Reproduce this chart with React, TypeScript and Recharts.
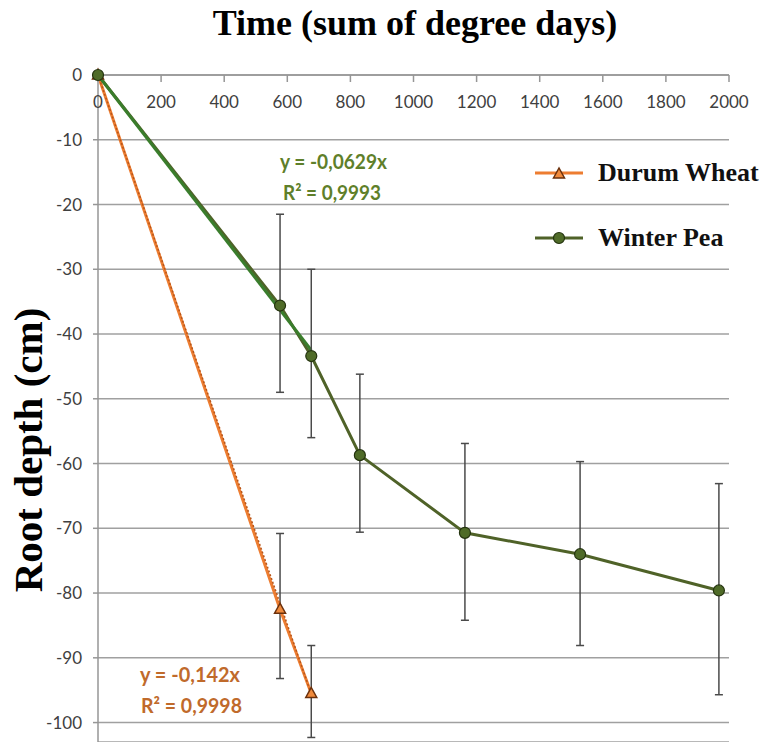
import React from "react";
import { LineChart, Line, XAxis, YAxis, CartesianGrid, ErrorBar } from "recharts";

// degree days at each sampling
const wheatX = [0, 577, 676];
const wheatDepth = [0, -82.5, -95.5];
const wheatTop = [null, -70.8, -88.1];
const wheatBottom = [null, -93.2, -102.3];

const peaX = [0, 577, 676, 830, 1163, 1528, 1968];
const peaDepth = [0, -35.6, -43.4, -58.7, -70.7, -74.0, -79.6];
const peaTop = [null, -21.5, -30.0, -46.2, -56.9, -59.7, -63.1];
const peaBottom = [null, -49.0, -56.0, -70.6, -84.2, -88.1, -95.7];

// linear trend lines (end points)
const wheatTrendX = [0, 676];
const wheatTrendY = [0, -95.6];
const peaTrendX = [0, 676];
const peaTrendY = [0, -42.5];

const xTicks = [0, 200, 400, 600, 800, 1000, 1200, 1400, 1600, 1800, 2000];
const yTicks = [0, -10, -20, -30, -40, -50, -60, -70, -80, -90, -100];

const build = (xs: number[], ys: number[], tops?: (number | null)[], bottoms?: (number | null)[]) =>
  xs.map((x, i) => {
    const row: any = { x, y: ys[i] };
    if (tops && bottoms && tops[i] != null && bottoms[i] != null) {
      row.err = [ys[i] - (bottoms[i] as number), (tops[i] as number) - ys[i]];
    }
    return row;
  });

const wheatData = build(wheatX, wheatDepth, wheatTop, wheatBottom);
const peaData = build(peaX, peaDepth, peaTop, peaBottom);
const wheatTrend = build(wheatTrendX, wheatTrendY);
const peaTrend = build(peaTrendX, peaTrendY);

const ORANGE = "#ED7D31";
const OLIVE = "#4F6228";
const SANS = "Lato, 'Open Sans', sans-serif";
const tickFont = { fontFamily: SANS, fontSize: 17, fill: "#404040" };

const Triangle = (props: any) => {
  const { cx, cy } = props;
  if (cx == null || cy == null) return null;
  return (
    <polygon
      points={`${cx},${cy - 6} ${cx - 5.5},${cy + 4} ${cx + 5.5},${cy + 4}`}
      fill="#F08A3C"
      stroke="#6B300C"
      strokeWidth={1.5}
    />
  );
};

const Circle = (props: any) => {
  const { cx, cy } = props;
  if (cx == null || cy == null) return null;
  return <circle cx={cx} cy={cy} r={5.5} fill="#4F6B28" stroke="#24330F" strokeWidth={1.2} />;
};

const legendItems = [
  { name: "Durum Wheat", color: ORANGE, marker: "tri" },
  { name: "Winter Pea", color: OLIVE, marker: "circ" },
];

const LegendBox = () => (
  <div
    style={{
      position: "absolute",
      left: 533,
      top: 140,
      fontFamily: "'Liberation Serif', serif",
      fontWeight: "bold",
      fontSize: 26,
      color: "#111",
      whiteSpace: "nowrap",
    }}
  >
    {legendItems.map((item) => (
      <div key={item.name} style={{ display: "flex", alignItems: "center", height: 65 }}>
        <svg width={52} height={20} style={{ marginRight: 13 }}>
          <line x1={2} y1={10} x2={50} y2={10} stroke={item.color} strokeWidth={3} />
          {item.marker === "tri" ? <Triangle cx={26} cy={11} /> : <Circle cx={26} cy={10} />}
        </svg>
        <span>{item.name}</span>
      </div>
    ))}
  </div>
);

export default function App() {
  return (
    <div style={{ position: "absolute", left: 0, top: 0, width: 763, height: 742, background: "#fff" }}>
      <LineChart width={763} height={742} margin={{ top: 75, right: 34, bottom: 0, left: 0 }}>
        <CartesianGrid vertical={false} stroke="#A0A0A0" strokeWidth={1.5} />
        <XAxis
          type="number"
          dataKey="x"
          orientation="top"
          mirror
          domain={[0, 2000]}
          ticks={xTicks}
          interval={0}
          tickSize={7}
          tickMargin={14}
          tick={tickFont}
          stroke="#969696"
          strokeWidth={1.5}
          allowDuplicatedCategory={false}
        />
        <YAxis
          type="number"
          width={98}
          domain={[-103, 0]}
          ticks={yTicks}
          interval={0}
          tickSize={5}
          tickMargin={11}
          tick={tickFont}
          stroke="#969696"
          strokeWidth={1.5}
        />
        <Line
          data={wheatData}
          dataKey="y"
          stroke={ORANGE}
          strokeWidth={3}
          dot={<Triangle />}
          activeDot={false}
          isAnimationActive={false}
        >
          <ErrorBar dataKey="err" direction="y" width={4} stroke="#4A4A4A" strokeWidth={1.5} />
        </Line>
        <Line
          data={wheatTrend}
          dataKey="y"
          stroke="#B8561A"
          strokeWidth={1.5}
          strokeDasharray="2 2"
          dot={false}
          activeDot={false}
          isAnimationActive={false}
        />
        <Line
          data={peaData}
          dataKey="y"
          stroke={OLIVE}
          strokeWidth={3}
          dot={false}
          activeDot={false}
          isAnimationActive={false}
        />
        <Line
          data={peaTrend}
          dataKey="y"
          stroke="#3A7D2C"
          strokeWidth={3}
          dot={false}
          activeDot={false}
          isAnimationActive={false}
        />
        <Line
          data={peaData}
          dataKey="y"
          stroke="none"
          dot={<Circle />}
          activeDot={false}
          isAnimationActive={false}
        >
          <ErrorBar dataKey="err" direction="y" width={4} stroke="#4A4A4A" strokeWidth={1.5} />
        </Line>
      </LineChart>
      <LegendBox />
      <svg width={763} height={742} style={{ position: "absolute", left: 0, top: 0, pointerEvents: "none" }}>
        <text x={415} y={35} textAnchor="middle" fontFamily="'Liberation Serif', serif" fontWeight="bold" fontSize={36} fill="#000">
          Time (sum of degree days)
        </text>
        <text
          transform="translate(42, 450) rotate(-90)"
          textAnchor="middle"
          fontFamily="'Liberation Serif', serif"
          fontWeight="bold"
          fontSize={41}
          fill="#000"
        >
          Root depth (cm)
        </text>
        <g fontFamily={SANS} fontSize={20} fontWeight="bold">
          <text x={280} y={169} textLength={107} lengthAdjust="spacingAndGlyphs" fill="#5F7F2A">y = -0,0629x</text>
          <text x={283} y={200} textLength={98} lengthAdjust="spacingAndGlyphs" fill="#5F7F2A">R² = 0,9993</text>
          <text x={140} y={682} textLength={100} lengthAdjust="spacingAndGlyphs" fill="#C06A2B">y = -0,142x</text>
          <text x={141} y={713} textLength={101} lengthAdjust="spacingAndGlyphs" fill="#C06A2B">R² = 0,9998</text>
        </g>
      </svg>
    </div>
  );
}
